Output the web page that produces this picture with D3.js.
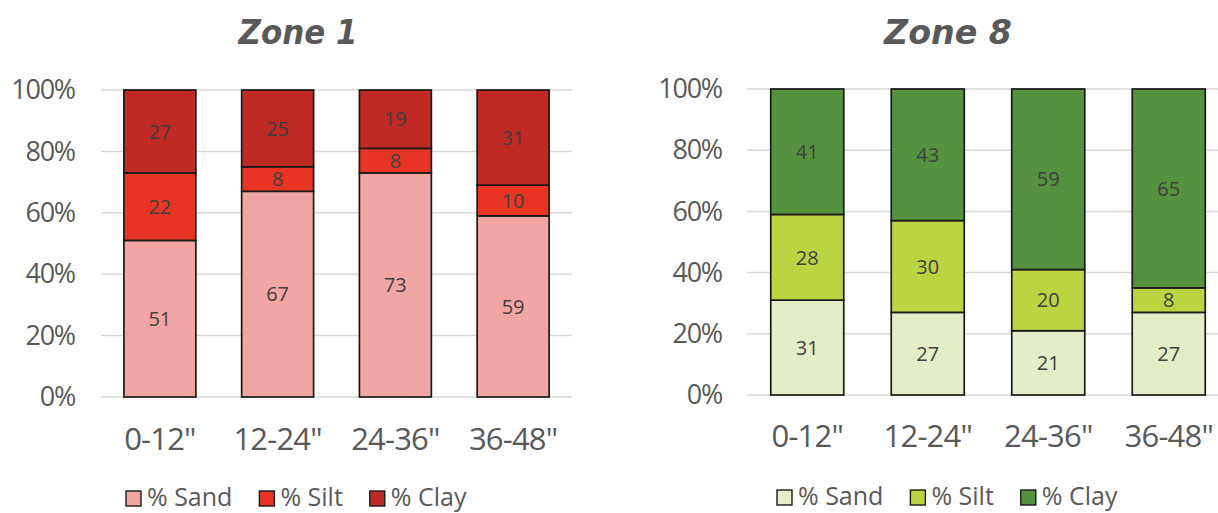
<!DOCTYPE html>
<html>
<head>
<meta charset="utf-8">
<script src="https://cdn.jsdelivr.net/npm/d3@7"></script>
<style>
  html, body { margin: 0; padding: 0; background: #fff; }
  svg { display: block; }
  .tick text { font-family: "Open Sans", sans-serif; fill: #595959; }
</style>
</head>
<body>
<svg id="chart" width="1218" height="513"></svg>
<script>
// Soil texture by depth for two zones (percent of sample)
const depths = ['0-12"', '12-24"', '24-36"', '36-48"'];
const seriesNames = ["% Sand", "% Silt", "% Clay"];

const zone1Sand = [51, 67, 73, 59];
const zone1Silt = [22, 8, 8, 10];
const zone1Clay = [27, 25, 19, 31];

const zone8Sand = [31, 27, 21, 27];
const zone8Silt = [28, 30, 20, 8];
const zone8Clay = [41, 43, 59, 65];

const yTicks = [0, 20, 40, 60, 80, 100];

const zone1Colors = ["#F2A6A3", "#E73425", "#BF2A25"];
const zone8Colors = ["#E3EEC6", "#BBD442", "#55923F"];

const svg = d3.select("#chart");

function buildRows(sand, silt, clay) {
  return depths.map((d, i) => ({
    depth: d,
    "% Sand": sand[i],
    "% Silt": silt[i],
    "% Clay": clay[i]
  }));
}

function drawPanel(opts) {
  const g = svg.append("g");
  const rows = buildRows(opts.sand, opts.silt, opts.clay);

  const x = d3.scaleBand()
    .domain(depths)
    .range(opts.xRange)
    .paddingInner(opts.pad)
    .paddingOuter(opts.pad / 2);

  const y = d3.scaleLinear().domain([0, 100]).range(opts.yRange);

  const color = d3.scaleOrdinal().domain(seriesNames).range(opts.colors);

  // horizontal gridlines
  g.append("g")
    .selectAll("line")
    .data(yTicks)
    .join("line")
    .attr("x1", opts.xRange[0])
    .attr("x2", opts.xRange[1])
    .attr("y1", d => y(d))
    .attr("y2", d => y(d))
    .attr("stroke", "#d9d9d9")
    .attr("stroke-width", 1.5);

  // y axis labels
  const yAxis = g.append("g")
    .attr("transform", `translate(${opts.xRange[0]},0)`)
    .call(d3.axisLeft(y).tickValues(yTicks).tickSize(0).tickPadding(opts.yPad)
      .tickFormat(d => d + "%"));
  yAxis.select(".domain").remove();
  yAxis.selectAll("text")
    .style("font-size", "27px")
    .attr("letter-spacing", "-1.2");

  // x axis labels
  const xAxis = g.append("g")
    .attr("transform", `translate(0,${opts.yRange[0]})`)
    .call(d3.axisBottom(x).tickSize(0).tickPadding(opts.xPad));
  xAxis.select(".domain").remove();
  xAxis.selectAll("text")
    .style("font-size", "31px")
    .attr("letter-spacing", "-0.8");

  // stacked bars
  const stacked = d3.stack().keys(seriesNames)(rows);

  const layers = g.append("g")
    .selectAll("g")
    .data(stacked)
    .join("g")
    .attr("fill", d => color(d.key));

  layers.selectAll("rect")
    .data(d => d)
    .join("rect")
    .attr("x", d => x(d.data.depth))
    .attr("width", x.bandwidth())
    .attr("y", d => y(d[1]))
    .attr("height", d => y(d[0]) - y(d[1]))
    .attr("stroke", "#1a1a1a")
    .attr("stroke-width", 1.7);

  layers.selectAll("text")
    .data(d => d)
    .join("text")
    .attr("x", d => x(d.data.depth) + x.bandwidth() / 2)
    .attr("y", d => (y(d[0]) + y(d[1])) / 2)
    .attr("dy", "0.36em")
    .attr("text-anchor", "middle")
    .attr("font-family", "'Open Sans', sans-serif")
    .attr("font-size", 20)
    .attr("fill", "#404040")
    .text(d => d[1] - d[0]);

  // title
  g.append("text")
    .attr("x", opts.titleX)
    .attr("y", 44)
    .attr("text-anchor", "middle")
    .attr("font-family", "'DejaVu Sans', sans-serif")
    .attr("font-weight", "bold")
    .attr("font-style", "italic")
    .attr("font-size", 33)
    .attr("fill", "#595959")
    .attr("textLength", opts.titleWidth)
    .attr("lengthAdjust", "spacingAndGlyphs")
    .text(opts.title);

  // legend
  const legend = g.append("g");
  let cx = opts.legendX;
  seriesNames.forEach((name, i) => {
    legend.append("rect")
      .attr("x", cx)
      .attr("y", opts.legendY - 15)
      .attr("width", 15)
      .attr("height", 15)
      .attr("fill", color(name))
      .attr("stroke", "#1a1a1a")
      .attr("stroke-width", 1.4);
    const t = legend.append("text")
      .attr("x", cx + 21)
      .attr("y", opts.legendY)
      .attr("font-family", "'Open Sans', sans-serif")
      .attr("font-size", 25)
      .attr("fill", "#595959")
      .text(name);
    cx += 21 + t.node().getComputedTextLength() + 27;
  });
}

drawPanel({
  title: "Zone 1",
  titleX: 298,
  titleWidth: 119,
  sand: zone1Sand, silt: zone1Silt, clay: zone1Clay,
  colors: zone1Colors,
  xRange: [101, 572],
  yRange: [397, 90],
  pad: 0.389,
  yPad: 26,
  xPad: 31,
  legendX: 126,
  legendY: 506
});

drawPanel({
  title: "Zone 8",
  titleX: 948,
  titleWidth: 128,
  sand: zone8Sand, silt: zone8Silt, clay: zone8Clay,
  colors: zone8Colors,
  xRange: [747, 1229],
  yRange: [395, 89],
  pad: 0.394,
  yPad: 25,
  xPad: 30,
  legendX: 777,
  legendY: 505
});
</script>
</body>
</html>
